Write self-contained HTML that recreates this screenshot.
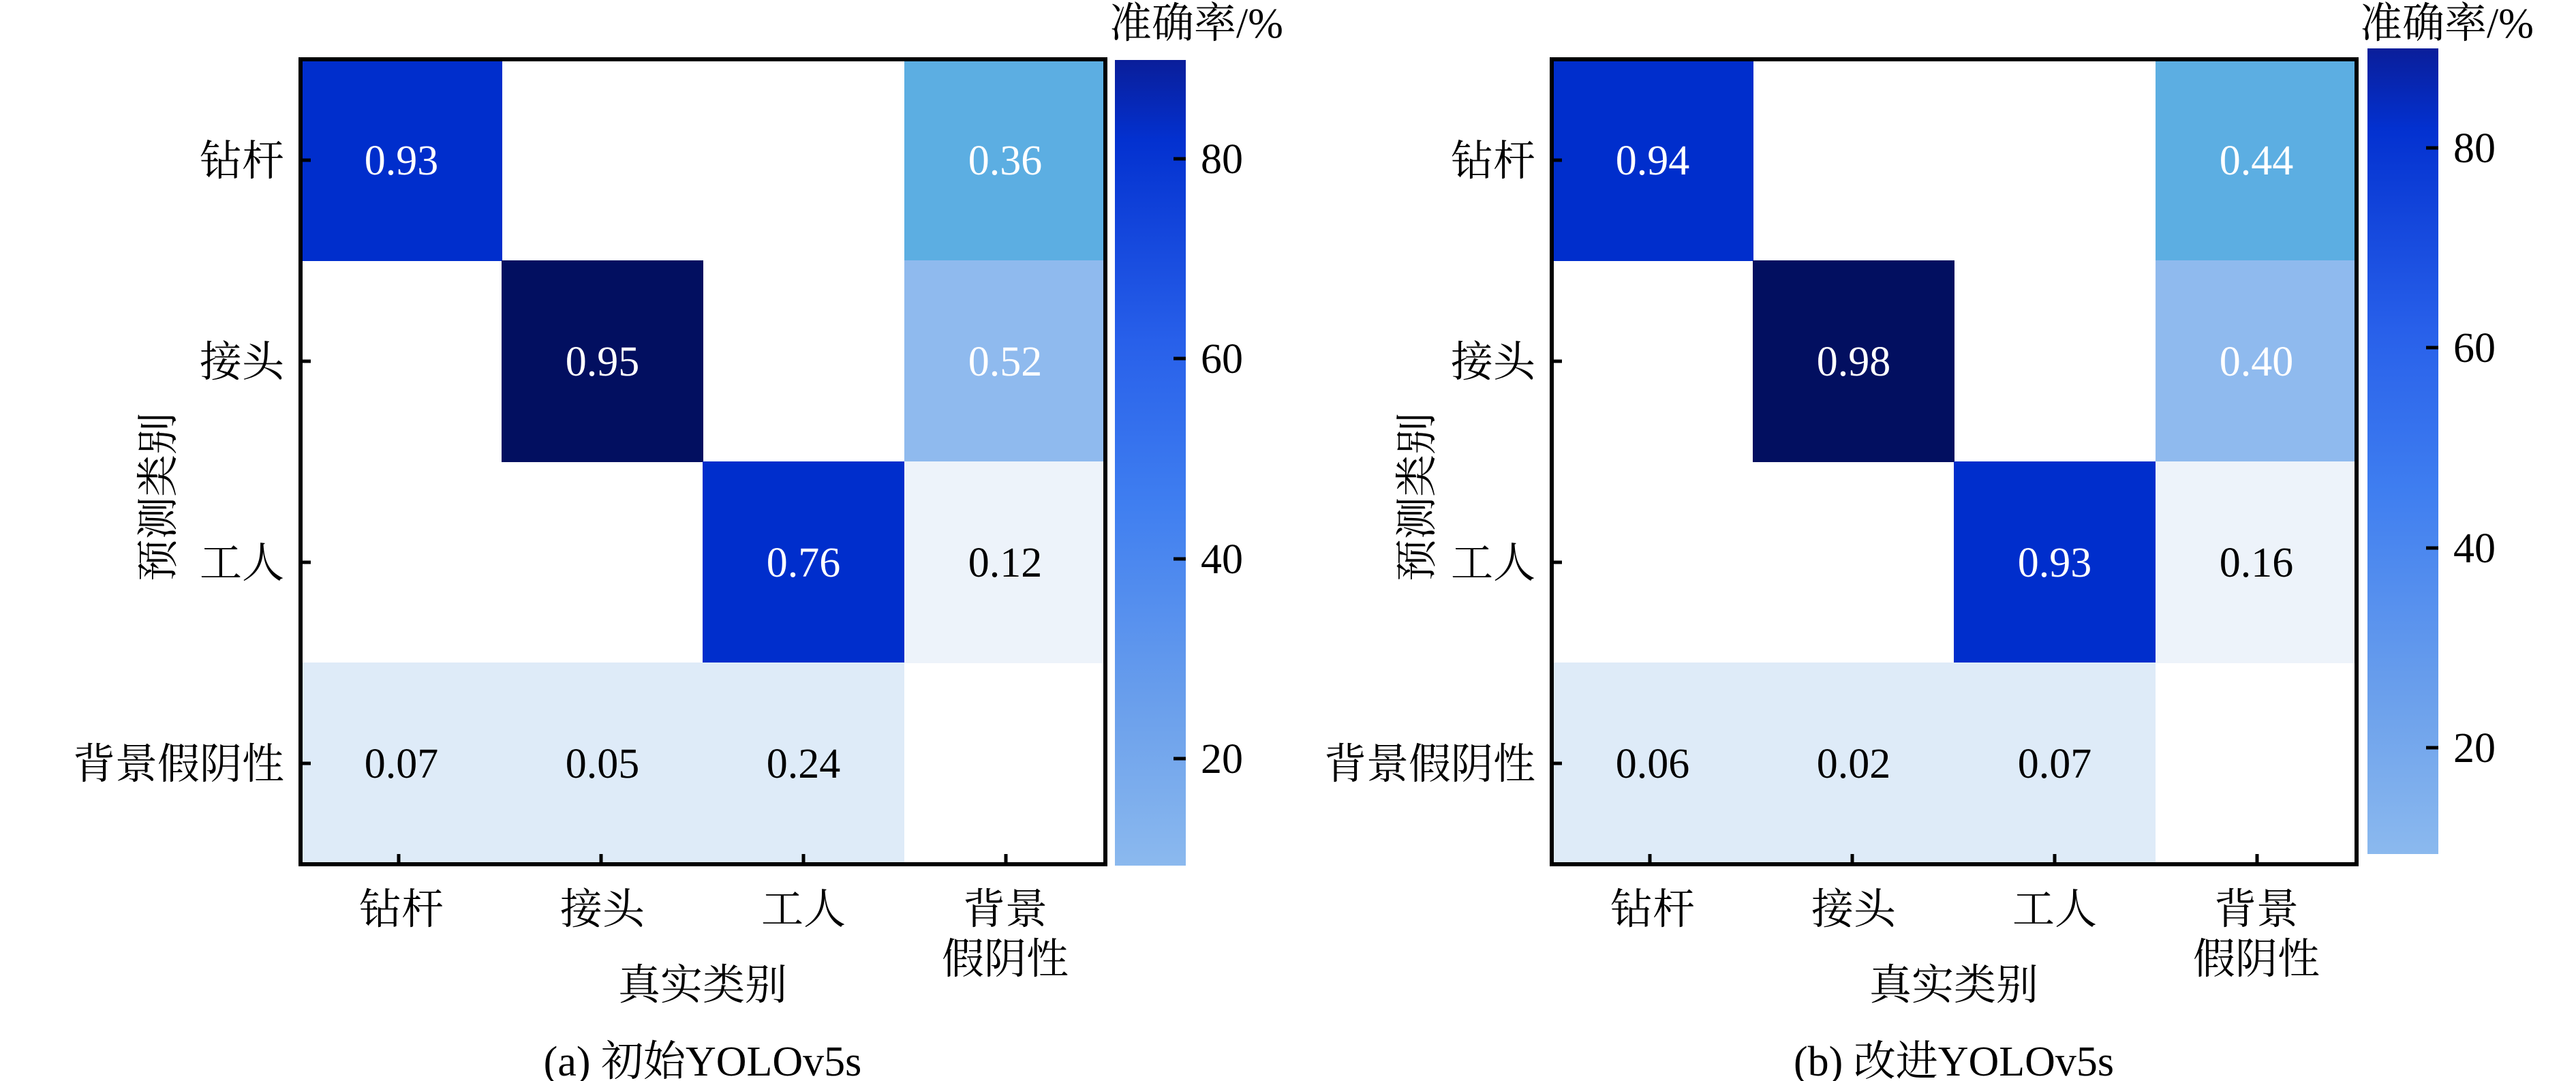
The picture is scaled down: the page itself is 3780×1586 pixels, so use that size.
<!DOCTYPE html>
<html><head><meta charset="utf-8"><style>html,body{margin:0;padding:0;background:#fff}svg{display:block}
svg text{font-family:"Liberation Serif","Noto Serif CJK SC",serif;font-size:62px}</style></head>
<body>
<svg width="3780" height="1586" viewBox="0 0 3780 1586" xmlns="http://www.w3.org/2000/svg">
<defs>
<linearGradient id="cb" x1="0" y1="0" x2="0" y2="1">
<stop offset="0" stop-color="#0a1e9a"/><stop offset="0.1" stop-color="#0331d0"/><stop offset="0.35" stop-color="#2860ea"/><stop offset="0.55" stop-color="#3f7ef0"/><stop offset="0.8" stop-color="#6a9fec"/><stop offset="1" stop-color="#8bb9ee"/>
</linearGradient>
</defs>

<!-- LEFT -->
<g>
<rect x="441" y="87" width="1181" height="1181" fill="#fff"/>
<rect x="441" y="87" width="296" height="296" fill="#002ecc"/>
<rect x="1327" y="87" width="295" height="296" fill="#5caee2"/>
<rect x="736" y="382" width="296" height="296" fill="#020f60"/>
<rect x="1327" y="382" width="295" height="296" fill="#8fbaee"/>
<rect x="1031" y="677" width="296" height="296" fill="#002ecc"/>
<rect x="1327" y="677" width="295" height="296" fill="#edf3fa"/>
<rect x="441" y="972" width="886" height="296" fill="#deebf8"/>
<g text-anchor="middle">
<text x="589" y="256" fill="#fff">0.93</text>
<text x="1475" y="256" fill="#fff">0.36</text>
<text x="884" y="551" fill="#fff">0.95</text>
<text x="1475" y="551" fill="#fff">0.52</text>
<text x="1179" y="846" fill="#fff">0.76</text>
<text x="1475" y="846">0.12</text>
<text x="589" y="1141">0.07</text>
<text x="884" y="1141">0.05</text>
<text x="1179" y="1141">0.24</text>
</g>
<rect x="441" y="87" width="1181" height="1181" fill="none" stroke="#000" stroke-width="6"/>
<g stroke="#000" stroke-width="5">
<line x1="441" y1="235" x2="456" y2="235"/><line x1="441" y1="530" x2="456" y2="530"/><line x1="441" y1="825" x2="456" y2="825"/><line x1="441" y1="1120" x2="456" y2="1120"/>
<line x1="585" y1="1268" x2="585" y2="1253"/><line x1="882" y1="1268" x2="882" y2="1253"/><line x1="1179" y1="1268" x2="1179" y2="1253"/><line x1="1476" y1="1268" x2="1476" y2="1253"/>
</g>
<g text-anchor="end">
<text x="417" y="257">钻杆</text><text x="417" y="552">接头</text><text x="417" y="847">工人</text><text x="417" y="1142">背景假阴性</text>
</g>
<g text-anchor="middle">
<text x="589" y="1355">钻杆</text><text x="884" y="1355">接头</text><text x="1179" y="1355">工人</text>
<text x="1475" y="1355">背景</text><text x="1475" y="1428">假阴性</text>
<text x="1031" y="1466">真实类别</text>
<text x="1031" y="1578">(a) 初始YOLOv5s</text>
<text transform="translate(253,729) rotate(-90)">预测类别</text>
</g>
<rect x="1636" y="88" width="104" height="1182" fill="url(#cb)"/>
<g stroke="#000" stroke-width="5">
<line x1="1722" y1="233" x2="1740" y2="233"/><line x1="1722" y1="526" x2="1740" y2="526"/><line x1="1722" y1="820" x2="1740" y2="820"/><line x1="1722" y1="1113" x2="1740" y2="1113"/>
</g>
<text x="1762" y="254">80</text><text x="1762" y="547">60</text><text x="1762" y="841">40</text><text x="1762" y="1134">20</text>
<text x="1628" y="55">准确率/%</text>
</g>

<!-- RIGHT -->
<g>
<rect x="2277" y="87" width="1181" height="1181" fill="#fff"/>
<rect x="2277" y="87" width="296" height="296" fill="#002ecc"/>
<rect x="3163" y="87" width="295" height="296" fill="#5caee2"/>
<rect x="2572" y="382" width="296" height="296" fill="#020f60"/>
<rect x="3163" y="382" width="295" height="296" fill="#8fbaee"/>
<rect x="2867" y="677" width="296" height="296" fill="#002ecc"/>
<rect x="3163" y="677" width="295" height="296" fill="#edf3fa"/>
<rect x="2277" y="972" width="886" height="296" fill="#deebf8"/>
<g text-anchor="middle">
<text x="2425" y="256" fill="#fff">0.94</text>
<text x="3311" y="256" fill="#fff">0.44</text>
<text x="2720" y="551" fill="#fff">0.98</text>
<text x="3311" y="551" fill="#fff">0.40</text>
<text x="3015" y="846" fill="#fff">0.93</text>
<text x="3311" y="846">0.16</text>
<text x="2425" y="1141">0.06</text>
<text x="2720" y="1141">0.02</text>
<text x="3015" y="1141">0.07</text>
</g>
<rect x="2277" y="87" width="1181" height="1181" fill="none" stroke="#000" stroke-width="6"/>
<g stroke="#000" stroke-width="5">
<line x1="2277" y1="235" x2="2292" y2="235"/><line x1="2277" y1="530" x2="2292" y2="530"/><line x1="2277" y1="825" x2="2292" y2="825"/><line x1="2277" y1="1120" x2="2292" y2="1120"/>
<line x1="2421" y1="1268" x2="2421" y2="1253"/><line x1="2718" y1="1268" x2="2718" y2="1253"/><line x1="3015" y1="1268" x2="3015" y2="1253"/><line x1="3312" y1="1268" x2="3312" y2="1253"/>
</g>
<g text-anchor="end">
<text x="2253" y="257">钻杆</text><text x="2253" y="552">接头</text><text x="2253" y="847">工人</text><text x="2253" y="1142">背景假阴性</text>
</g>
<g text-anchor="middle">
<text x="2425" y="1355">钻杆</text><text x="2720" y="1355">接头</text><text x="3015" y="1355">工人</text>
<text x="3311" y="1355">背景</text><text x="3311" y="1428">假阴性</text>
<text x="2867" y="1466">真实类别</text>
<text x="2867" y="1578">(b) 改进YOLOv5s</text>
<text transform="translate(2100,729) rotate(-90)">预测类别</text>
</g>
<rect x="3474" y="71" width="104" height="1182" fill="url(#cb)"/>
<g stroke="#000" stroke-width="5">
<line x1="3560" y1="217" x2="3578" y2="217"/><line x1="3560" y1="510" x2="3578" y2="510"/><line x1="3560" y1="804" x2="3578" y2="804"/><line x1="3560" y1="1097" x2="3578" y2="1097"/>
</g>
<text x="3600" y="238">80</text><text x="3600" y="531">60</text><text x="3600" y="825">40</text><text x="3600" y="1118">20</text>
<text x="3463" y="55">准确率/%</text>
</g>
</svg>
</body></html>
